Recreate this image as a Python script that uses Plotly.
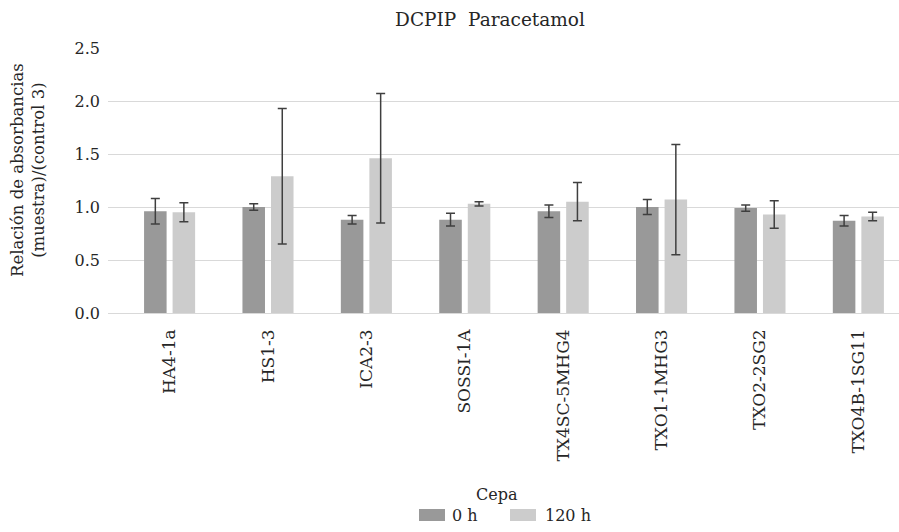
import plotly.graph_objects as go

# Strains (Cepa) and absorbance ratios for each exposure time
cepas = ["HA4-1a", "HS1-3", "ICA2-3", "SOSSI-1A",
         "TX4SC-5MHG4", "TXO1-1MHG3", "TXO2-2SG2", "TXO4B-1SG11"]
valores_0h = [0.96, 1.00, 0.88, 0.88, 0.96, 1.00, 0.99, 0.87]
error_0h = [0.12, 0.03, 0.04, 0.06, 0.06, 0.07, 0.03, 0.05]
valores_120h = [0.95, 1.29, 1.46, 1.03, 1.05, 1.07, 0.93, 0.91]
error_120h = [0.09, 0.64, 0.61, 0.02, 0.18, 0.52, 0.13, 0.04]
series = ["0 h", "120 h"]
colores = ["#999999", "#cccccc"]

FONT = "DejaVu Serif"
TXT = "#262626"
ERR = "#3f3f3f"

fig = go.Figure()
for nombre, vals, errs, col in zip(series, [valores_0h, valores_120h],
                                   [error_0h, error_120h], colores):
    fig.add_trace(go.Bar(
        x=cepas, y=vals, name=nombre,
        marker=dict(color=col, line=dict(width=0)),
        error_y=dict(type="data", array=errs, visible=True,
                     color=ERR, thickness=1.5, width=4.5),
        showlegend=False,
    ))

# plot area geometry in pixels
W, H = 899, 532
L, R, T, B = 108, 0, 48, 219
pw, ph = W - L - R, H - T - B


def px(x):
    return (x - L) / pw


def py(y):
    return (H - B - y) / ph


# legend drawn as swatches + labels under the axis labels
shapes = []
annotations = []
leg_items = [(419, 445, 450), (510, 536, 543)]
for (x0, x1, tx), nombre, col in zip(leg_items, series, colores):
    shapes.append(dict(type="rect", xref="paper", yref="paper",
                       x0=px(x0), x1=px(x1), y0=py(521), y1=py(509),
                       fillcolor=col, line=dict(width=0)))
    annotations.append(dict(text=nombre, xref="paper", yref="paper",
                            x=px(tx), y=py(515), xanchor="left",
                            yanchor="middle", showarrow=False,
                            font=dict(family=FONT, size=16, color=TXT)))
annotations.append(dict(text="Cepa", xref="paper", yref="paper",
                        x=px(497), y=py(495), xanchor="center",
                        yanchor="middle", showarrow=False,
                        font=dict(family=FONT, size=16, color=TXT)))
annotations.append(dict(text="Relación de absorbancias<br>(muestra)/(control 3)",
                        xref="paper", yref="paper", x=px(28), y=py(170),
                        xanchor="center", yanchor="middle", textangle=-90,
                        showarrow=False,
                        font=dict(family=FONT, size=16.5, color=TXT)))

fig.update_layout(
    width=W, height=H,
    margin=dict(l=L, r=R, t=T, b=B, pad=0),
    paper_bgcolor="white", plot_bgcolor="white",
    font=dict(family=FONT, size=16, color=TXT),
    title=dict(text="DCPIP  Paracetamol", x=px(490), xref="paper",
               xanchor="center", y=1 - 20 / H, yref="container",
               yanchor="middle", font=dict(family=FONT, size=18.5, color=TXT)),
    barmode="group", bargap=0.42, bargroupgap=0.21,
    shapes=shapes, annotations=annotations,
)
fig.update_xaxes(
    type="category", range=[-0.626, 7.413], tickangle=-90,
    showgrid=False, showline=False, zeroline=False, ticks="",
    ticklabelstandoff=12,
    tickfont=dict(family=FONT, size=17, color=TXT),
)
fig.update_yaxes(
    range=[0, 2.5], tickvals=[0, 0.5, 1.0, 1.5, 2.0, 2.5],
    ticktext=["0.0", "0.5", "1.0", "1.5", "2.0", "2.5"],
    showgrid=True, gridcolor="#d9d9d9", gridwidth=1,
    zeroline=True, zerolinecolor="#d9d9d9", zerolinewidth=1,
    showline=False, ticks="", ticklabelstandoff=7,
    tickfont=dict(family=FONT, size=16, color=TXT),
)

fig.write_html("out.html")
